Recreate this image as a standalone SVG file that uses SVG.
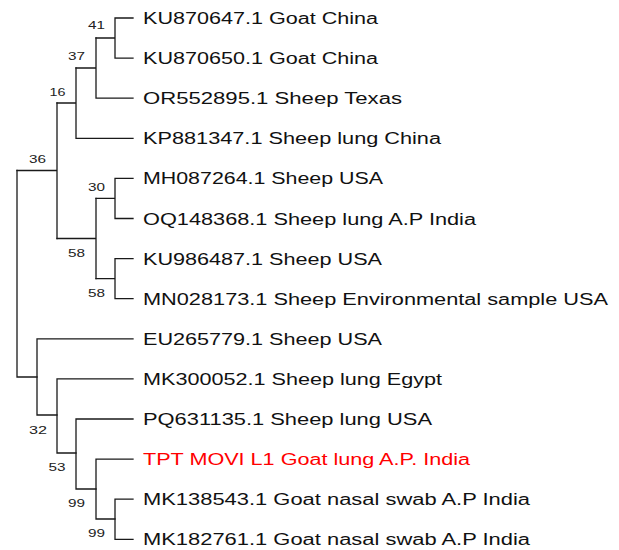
<svg xmlns="http://www.w3.org/2000/svg" width="619" height="550" viewBox="0 0 619 550">
<style>
.br{fill:none;stroke:#1a1a1a;stroke-width:1.3;stroke-linecap:square;stroke-linejoin:miter}
.lf{font-family:"Liberation Sans",Arial,sans-serif;font-size:16px;fill:#111}
.red{fill:#ff0000}
.bs{font-family:"Liberation Sans",Arial,sans-serif;font-size:11px;fill:#222;text-anchor:middle}
</style>
<rect width="619" height="550" fill="#ffffff"/>
<g id="connectors">
<path class="br" d="M133,18 H115 V58.1 H133 M115,38 H96"/>
<path class="br" d="M96,38 V98.2 H133 M96,68 H76"/>
<path class="br" d="M76,68 V138.3 H133 M76,103 H57"/>
<path class="br" d="M133,178.4 H115 V218.5 H133 M115,198.4 H96"/>
<path class="br" d="M133,258.6 H115 V298.7 H133 M115,278.6 H96"/>
<path class="br" d="M96,198.4 V278.6 M96,238.5 H57"/>
<path class="br" d="M57,103 V238.5 M57,170.5 H17"/>
<path class="br" d="M17,170.5 V377 H37"/>
<path class="br" d="M133,338.8 H37 V415 H57"/>
<path class="br" d="M133,378.9 H57 V453 H76"/>
<path class="br" d="M133,419 H76 V489 H96"/>
<path class="br" d="M133,459.1 H96 V519 H115"/>
<path class="br" d="M133,499.2 H115 V539.3 H133"/>
</g>
<g id="leaves">
<g id="KU870647"><text class="lf" x="143" y="24" textLength="235" lengthAdjust="spacingAndGlyphs">KU870647.1 Goat China</text></g>
<g id="KU870650"><text class="lf" x="143" y="64.1" textLength="235" lengthAdjust="spacingAndGlyphs">KU870650.1 Goat China</text></g>
<g id="OR552895"><text class="lf" x="143" y="104.2" textLength="259" lengthAdjust="spacingAndGlyphs">OR552895.1 Sheep Texas</text></g>
<g id="KP881347"><text class="lf" x="143" y="144.3" textLength="298" lengthAdjust="spacingAndGlyphs">KP881347.1 Sheep lung China</text></g>
<g id="MH087264"><text class="lf" x="143" y="184.4" textLength="240" lengthAdjust="spacingAndGlyphs">MH087264.1 Sheep USA</text></g>
<g id="OQ148368"><text class="lf" x="143" y="224.5" textLength="333" lengthAdjust="spacingAndGlyphs">OQ148368.1 Sheep lung A.P India</text></g>
<g id="KU986487"><text class="lf" x="143" y="264.6" textLength="239" lengthAdjust="spacingAndGlyphs">KU986487.1 Sheep USA</text></g>
<g id="MN028173"><text class="lf" x="143" y="304.7" textLength="465" lengthAdjust="spacingAndGlyphs">MN028173.1 Sheep Environmental sample USA</text></g>
<g id="EU265779"><text class="lf" x="143" y="344.8" textLength="239" lengthAdjust="spacingAndGlyphs">EU265779.1 Sheep USA</text></g>
<g id="MK300052"><text class="lf" x="143" y="384.9" textLength="299" lengthAdjust="spacingAndGlyphs">MK300052.1 Sheep lung Egypt</text></g>
<g id="PQ631135"><text class="lf" x="143" y="425" textLength="289" lengthAdjust="spacingAndGlyphs">PQ631135.1 Sheep lung USA</text></g>
<g id="TPT_MOVI_L1"><text class="lf red" x="143" y="465.1" textLength="327" lengthAdjust="spacingAndGlyphs">TPT MOVI L1 Goat lung A.P. India</text></g>
<g id="MK138543"><text class="lf" x="143" y="505.2" textLength="387" lengthAdjust="spacingAndGlyphs">MK138543.1 Goat nasal swab A.P India</text></g>
<g id="MK182761"><text class="lf" x="143" y="545.3" textLength="387" lengthAdjust="spacingAndGlyphs">MK182761.1 Goat nasal swab A.P India</text></g>
</g>
<g id="bootstrap">
<g id="n41"><text class="bs" x="96.5" y="29" textLength="17" lengthAdjust="spacingAndGlyphs">41</text></g>
<g id="n37"><text class="bs" x="76.5" y="60" textLength="17" lengthAdjust="spacingAndGlyphs">37</text></g>
<g id="n16"><text class="bs" x="57.5" y="96" textLength="16" lengthAdjust="spacingAndGlyphs">16</text></g>
<g id="n36"><text class="bs" x="37.5" y="163" textLength="17" lengthAdjust="spacingAndGlyphs">36</text></g>
<g id="n30"><text class="bs" x="96.5" y="191" textLength="17" lengthAdjust="spacingAndGlyphs">30</text></g>
<g id="n58a"><text class="bs" x="76.5" y="257" textLength="17" lengthAdjust="spacingAndGlyphs">58</text></g>
<g id="n58b"><text class="bs" x="96.5" y="297" textLength="17" lengthAdjust="spacingAndGlyphs">58</text></g>
<g id="n32"><text class="bs" x="38" y="434" textLength="18" lengthAdjust="spacingAndGlyphs">32</text></g>
<g id="n53"><text class="bs" x="57" y="471" textLength="17" lengthAdjust="spacingAndGlyphs">53</text></g>
<g id="n99a"><text class="bs" x="76.5" y="507" textLength="17" lengthAdjust="spacingAndGlyphs">99</text></g>
<g id="n99b"><text class="bs" x="96.5" y="537" textLength="17" lengthAdjust="spacingAndGlyphs">99</text></g>
</g>
</svg>
